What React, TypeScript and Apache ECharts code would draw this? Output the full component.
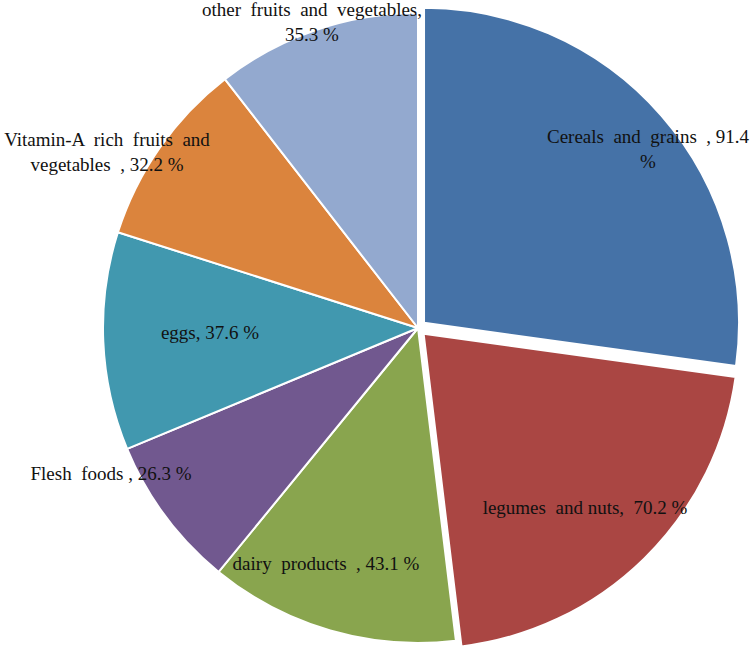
import React, { useEffect, useRef } from "react";
import * as echarts from "echarts";

const categories = [
  "Cereals and grains",
  "legumes and nuts",
  "dairy products",
  "Flesh foods",
  "eggs",
  "Vitamin-A rich fruits and vegetables",
  "other fruits and vegetables",
];
const values = [91.4, 70.2, 43.1, 26.3, 37.6, 32.2, 35.3];
const labelTexts = [
  "Cereals  and  grains  , 91.4\n%",
  "legumes  and nuts,  70.2 %",
  "dairy  products  , 43.1 %",
  "Flesh  foods , 26.3 %",
  "eggs, 37.6 %",
  "Vitamin-A  rich  fruits  and\nvegetables  , 32.2 %",
  "other  fruits  and  vegetables,\n35.3 %",
];
const exploded = [true, true, false, false, false, false, false];
const colors = ["#4572a7", "#aa4643", "#89a54e", "#71588f", "#4198af", "#db843d", "#93a9cf"];
const labelPositions: [number, number][] = [
  [648, 149],
  [585, 507],
  [326, 563],
  [111, 473],
  [210, 332],
  [107, 152],
  [312, 22],
];

export default function App() {
  const ref = useRef<HTMLDivElement>(null);
  useEffect(() => {
    document.body.style.margin = "0";
    const chart = echarts.init(ref.current!, undefined, { renderer: "svg" });
    const common = {
      type: "pie",
      center: [418, 328],
      radius: [0, 315],
      startAngle: 90,
      clockwise: true,
      avoidLabelOverlap: false,
      emphasis: { disabled: true },
      labelLine: { show: false },
    };
    chart.setOption({
      animation: false,
      backgroundColor: "#ffffff",
      series: [
        {
          ...common,
          name: "exploded",
          selectedMode: "multiple",
          selectedOffset: 8,
          label: { show: false },
          data: categories.map((c, i) => ({
            name: c,
            value: values[i],
            selected: exploded[i],
            itemStyle: exploded[i]
              ? { color: colors[i], borderColor: "#ffffff", borderWidth: 2 }
              : { color: "transparent", borderWidth: 0 },
          })),
        },
        {
          ...common,
          name: "main",
          selectedMode: false,
          label: {
            show: true,
            position: "inside",
            fontFamily: "Liberation Serif",
            fontSize: 19,
            lineHeight: 25,
            color: "#111111",
            align: "center",
          },
          labelLayout: (params: any) => {
            const p = labelPositions[params.dataIndex];
            return { x: p[0], y: p[1], align: "center", verticalAlign: "middle" };
          },
          data: categories.map((c, i) => ({
            name: c,
            value: values[i],
            itemStyle: exploded[i]
              ? { color: "transparent", borderWidth: 0 }
              : { color: colors[i], borderColor: "#ffffff", borderWidth: 2 },
            label: { formatter: labelTexts[i] },
          })),
        },
      ],
    });
    return () => chart.dispose();
  }, []);
  return <div ref={ref} style={{ width: 753, height: 647 }} />;
}
